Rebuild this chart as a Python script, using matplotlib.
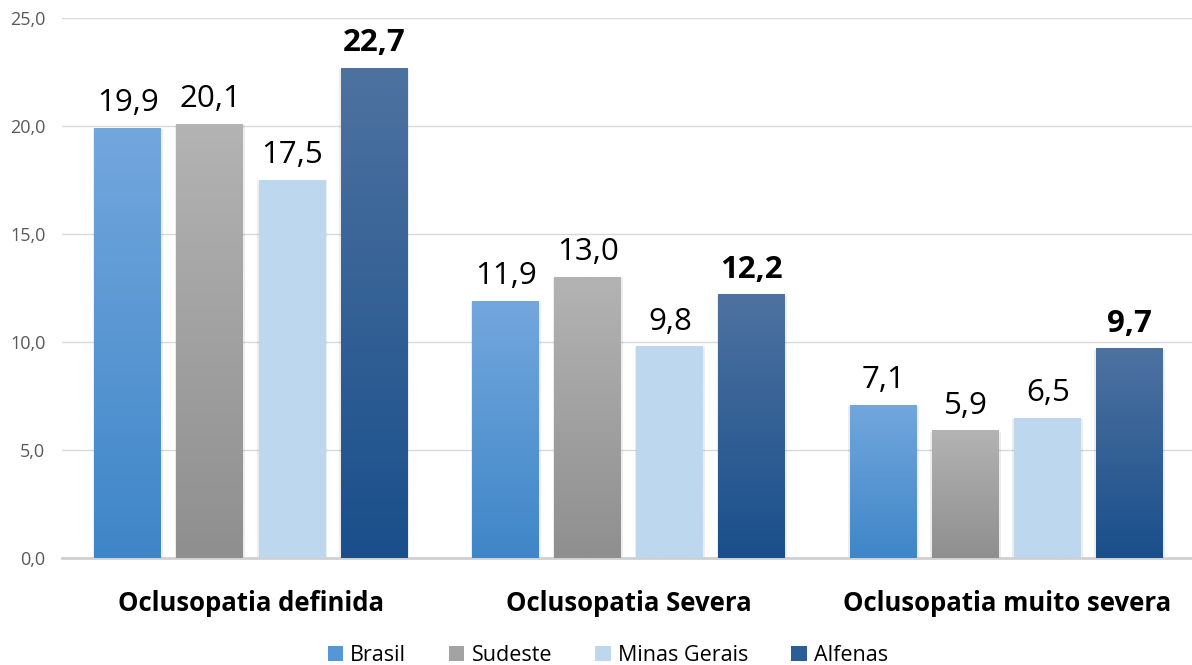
import matplotlib
matplotlib.use('Agg')
import matplotlib.pyplot as plt
import numpy as np
from matplotlib.colors import LinearSegmentedColormap
from matplotlib.patches import Patch

# Data
categories = ["Oclusopatia definida", "Oclusopatia Severa", "Oclusopatia muito severa"]
series_names = ["Brasil", "Sudeste", "Minas Gerais", "Alfenas"]
brasil = [19.9, 11.9, 7.1]
sudeste = [20.1, 13.0, 5.9]
minas_gerais = [17.5, 9.8, 6.5]
alfenas = [22.7, 12.2, 9.7]
yticks = [0, 5, 10, 15, 20, 25]

series_values = [brasil, sudeste, minas_gerais, alfenas]
# top and bottom colour of each bar gradient
grad_colors = [("#72a7dd", "#3f86c8"),
               ("#b3b3b3", "#8f8f8f"),
               ("#bdd7ee", "#bdd7ee"),
               ("#4d72a0", "#1a4f8b")]
legend_colors = ["#5596d6", "#a3a3a3", "#bdd7ee", "#2b5d96"]
bold_series = "Alfenas"

plt.rcParams['font.family'] = ['Open Sans', 'DejaVu Sans']

fig = plt.figure(figsize=(11.92, 6.65), dpi=100)
ax = fig.add_axes([0.052, 0.161, 0.948, 0.812])

x = np.arange(len(categories))
pitch = 0.217
width = 0.177

for i, (name, vals) in enumerate(zip(series_names, series_values)):
    offs = (i - 1.5) * pitch
    bars = ax.bar(x + offs, vals, width, color='none', edgecolor='none', zorder=3)
    cmap = LinearSegmentedColormap.from_list(name, [grad_colors[i][1], grad_colors[i][0]])
    for b, v in zip(bars, vals):
        x0 = b.get_x()
        # soft shadow
        ax.bar(x0 + width / 2, v - 0.05, width + 0.01, color='#000000',
               alpha=0.07, edgecolor='none', zorder=2)
        grad = np.linspace(0, 1, 100).reshape(-1, 1)
        im = ax.imshow(grad, cmap=cmap, origin='lower', aspect='auto',
                       extent=[x0, x0 + width, 0, v], zorder=3)
        im.set_clip_path(b)
        weight = 'bold' if name == bold_series else 'normal'
        ax.annotate(f"{v:.1f}".replace('.', ','), (x0 + width / 2, v),
                    xytext=(0, 7), textcoords='offset points',
                    ha='center', va='bottom', fontsize=22.5, fontweight=weight,
                    color='black', zorder=4)

ax.set_xlim(-0.5, 2.49)
ax.set_ylim(0, 25)
ax.set_yticks(yticks)
ax.set_yticklabels([f"{t:.1f}".replace('.', ',') for t in yticks])
ax.tick_params(axis='y', length=0, labelsize=13, labelcolor='#595959', pad=12)
ax.set_xticks(x)
ax.set_xticklabels(categories, fontsize=18.5, fontweight='bold')
ax.tick_params(axis='x', length=0, pad=23)
ax.grid(axis='y', color='#d9d9d9', linewidth=1, zorder=0)
ax.set_axisbelow(True)
for s in ['top', 'right', 'left']:
    ax.spines[s].set_visible(False)
ax.spines['bottom'].set_color('#d0d0d0')
ax.spines['bottom'].set_linewidth(2)

handles = [Patch(facecolor=c, edgecolor='none') for c in legend_colors]
fig.legend(handles, series_names, loc='center', bbox_to_anchor=(0.51, 0.014),
           ncol=4, frameon=False, fontsize=15.5, handlelength=0.7, handleheight=0.7,
           handletextpad=0.35, columnspacing=2.0)

fig.savefig('out.png', dpi=100)
